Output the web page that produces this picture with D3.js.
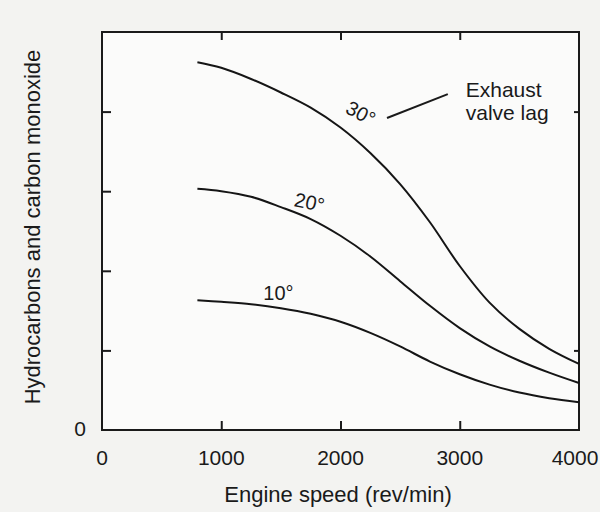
<!DOCTYPE html>
<html>
<head>
<meta charset="utf-8">
<script src="https://cdn.jsdelivr.net/npm/d3@7"></script>
<style>
    body { margin: 0; background: #f3f3f1; }
    svg { display: block; }
    .frame { fill: #fbfbfa; stroke: #1a1a1a; stroke-width: 2; }
    .curve { fill: none; stroke: #151515; stroke-width: 2; }
    .tick line { stroke: #1a1a1a; stroke-width: 2; }
    text { font-family: "Liberation Sans", Arial, sans-serif; fill: #1a1a1a; }
</style>
</head>
<body>
<script>
//chart values
var speeds = [800, 1000, 1250, 1500, 1750, 2000, 2250, 2500, 2750, 3000, 3250, 3500, 3750, 4000]; //rev/min
var lag30 = [4.62, 4.55, 4.41, 4.24, 4.05, 3.80, 3.48, 3.09, 2.61, 2.06, 1.60, 1.27, 1.02, 0.83];
var lag20 = [3.03, 3.00, 2.93, 2.80, 2.65, 2.44, 2.18, 1.87, 1.56, 1.28, 1.05, 0.87, 0.72, 0.59];
var lag10 = [1.63, 1.61, 1.58, 1.53, 1.46, 1.36, 1.22, 1.05, 0.86, 0.70, 0.57, 0.47, 0.40, 0.35];
var lagNames = ["10°", "20°", "30°"];
var xTickLabels = [0, 1000, 2000, 3000, 4000];
var xInnerTicks = [1000, 2000, 3000];
var yInnerTicks = [1, 2, 3, 4];
var yRightTicks = [1, 4];

(function () {
    var width = 600, height = 512;
    var left = 102, right = 579, top = 32, bottom = 430;

    var svg = d3.select("body").append("svg")
        .attr("width", width)
        .attr("height", height);

    var x = d3.scaleLinear().domain([0, 4000]).range([left, right]);
    var y = d3.scaleLinear().domain([0, 5]).range([bottom, top]);

    //plot frame
    svg.append("rect")
        .attr("class", "frame")
        .attr("x", left).attr("y", top)
        .attr("width", right - left).attr("height", bottom - top);

    //inward ticks on all four sides, no domain lines (frame draws them)
    function addAxis(axis, tx, ty) {
        var g = svg.append("g")
            .attr("transform", "translate(" + tx + "," + ty + ")")
            .call(axis.tickFormat(""));
        g.select(".domain").remove();
        return g;
    }
    addAxis(d3.axisBottom(x).tickValues(xInnerTicks).tickSizeInner(-9).tickSizeOuter(0), 0, bottom);
    addAxis(d3.axisTop(x).tickValues(xInnerTicks).tickSizeInner(-8).tickSizeOuter(0), 0, top);
    addAxis(d3.axisLeft(y).tickValues(yInnerTicks).tickSizeInner(-9).tickSizeOuter(0), left, 0);
    addAxis(d3.axisRight(y).tickValues(yRightTicks).tickSizeInner(-5).tickSizeOuter(0), right, 0);

    //tick labels (last one nudged in so it stays on the page)
    svg.selectAll(".xlab")
        .data(xTickLabels)
        .enter().append("text")
        .attr("class", "xlab")
        .attr("x", function (d) { return x(d); })
        .attr("dx", function (d, i) { return i == xTickLabels.length - 1 ? -4 : 0; })
        .attr("y", bottom + 35)
        .attr("text-anchor", "middle")
        .style("font-size", "21px")
        .text(function (d) { return d; });

    svg.append("text")
        .attr("x", left - 16)
        .attr("y", y(0) + 6)
        .attr("text-anchor", "end")
        .style("font-size", "21px")
        .text("0");

    //axis titles
    svg.append("text")
        .attr("x", 338)
        .attr("y", 502)
        .attr("text-anchor", "middle")
        .style("font-size", "22px")
        .text("Engine speed (rev/min)");

    svg.append("text")
        .attr("transform", "translate(40,227) rotate(-90)")
        .attr("text-anchor", "middle")
        .style("font-size", "22px")
        .text("Hydrocarbons and carbon monoxide");

    //curves
    var line = d3.line()
        .x(function (d) { return x(d[0]); })
        .y(function (d) { return y(d[1]); })
        .curve(d3.curveCatmullRom.alpha(0.5));

    [lag10, lag20, lag30].forEach(function (series) {
        svg.append("path")
            .datum(d3.zip(speeds, series))
            .attr("class", "curve")
            .attr("d", line);
    });

    //curve labels: [speed, value, rotation]
    var labelSpots = [[1480, 1.72, 0], [1740, 2.86, 12], [2170, 3.98, 28]];
    lagNames.forEach(function (name, i) {
        var s = labelSpots[i];
        svg.append("text")
            .attr("transform", "translate(" + x(s[0]) + "," + y(s[1]) + ") rotate(" + s[2] + ")")
            .attr("text-anchor", "middle")
            .attr("dy", "0.35em")
            .style("font-size", "20px")
            .text(name);
    });

    //leader line and note
    svg.append("line")
        .attr("x1", x(2390)).attr("y1", y(3.92))
        .attr("x2", x(2900)).attr("y2", y(4.22))
        .attr("stroke", "#1a1a1a")
        .attr("stroke-width", 2);

    var note = svg.append("text")
        .attr("x", x(3050))
        .attr("y", y(4.18))
        .style("font-size", "21px");
    note.append("tspan").attr("x", x(3050)).text("Exhaust");
    note.append("tspan").attr("x", x(3050)).attr("dy", "1.1em").text("valve lag");
})();
</script>
</body>
</html>
